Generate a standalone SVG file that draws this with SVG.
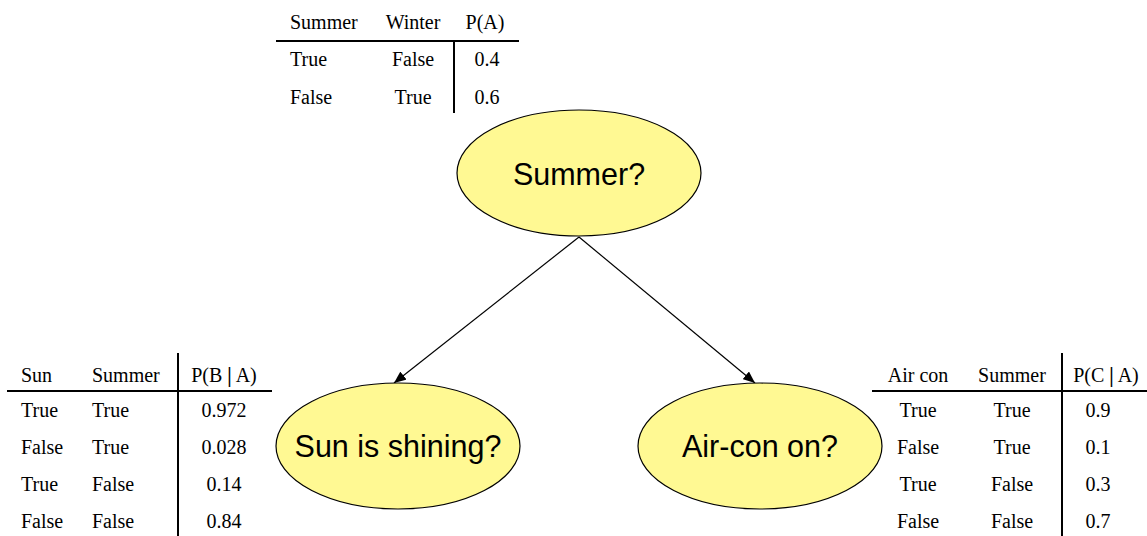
<svg xmlns="http://www.w3.org/2000/svg" width="1147" height="536" viewBox="0 0 1147 536">
<defs>
<marker id="arrow" viewBox="0 0 12 10" refX="12" refY="5" markerWidth="12" markerHeight="10" markerUnits="userSpaceOnUse" orient="auto">
<path d="M0,0 L12,5 L0,10 z" fill="#000"/>
</marker>
<style>
.node { fill: #FFF993; stroke: #000; stroke-width: 1.2; }
.nt { font-family: "Liberation Sans", Arial, sans-serif; font-size: 30.5px; fill: #000; text-anchor: middle; }
.tt { font-family: "Liberation Serif", "Times New Roman", serif; font-size: 20px; fill: #000; }
.c { text-anchor: middle; }
.bar { font-weight: bold; }
.rule { stroke: #000; stroke-width: 2; fill: none; }
.edge { stroke: #000; stroke-width: 1.2; fill: none; marker-end: url(#arrow); }
</style>
</defs>
<rect width="1147" height="536" fill="#fff"/>

<g id="connectors">
<line class="edge" x1="579" y1="237" x2="394" y2="383"/>
<line class="edge" x1="579" y1="237" x2="755" y2="383"/>
</g>

<g id="node-summer">
<ellipse class="node" cx="579" cy="173" rx="122" ry="63"/>
<text class="nt" x="579" y="185">Summer?</text>
</g>

<g id="node-sun">
<ellipse class="node" cx="398" cy="446" rx="122" ry="63"/>
<text class="nt" x="398" y="457">Sun is shining?</text>
</g>

<g id="node-aircon">
<ellipse class="node" cx="760" cy="446" rx="122" ry="63"/>
<text class="nt" x="760" y="457">Air-con on?</text>
</g>

<g id="table-summer">
<line class="rule" x1="276" y1="41" x2="519" y2="41"/>
<line class="rule" x1="454" y1="41" x2="454" y2="113"/>
<text class="tt" x="290" y="29">Summer</text>
<text class="tt c" x="413" y="29">Winter</text>
<text class="tt c" x="485" y="29">P(A)</text>
<text class="tt" x="290" y="66">True</text>
<text class="tt c" x="413" y="66">False</text>
<text class="tt c" x="487" y="66">0.4</text>
<text class="tt" x="290" y="104">False</text>
<text class="tt c" x="413" y="104">True</text>
<text class="tt c" x="487" y="104">0.6</text>
</g>

<g id="table-sun">
<line class="rule" x1="7" y1="391" x2="272" y2="391"/>
<line class="rule" x1="178" y1="353" x2="178" y2="536"/>
<text class="tt" x="21" y="382">Sun</text>
<text class="tt" x="92" y="382">Summer</text>
<text class="tt c" x="224" y="382">P(B <tspan class="bar">|</tspan> A)</text>
<text class="tt" x="21" y="417">True</text>
<text class="tt" x="92" y="417">True</text>
<text class="tt c" x="224" y="417">0.972</text>
<text class="tt" x="21" y="454">False</text>
<text class="tt" x="92" y="454">True</text>
<text class="tt c" x="224" y="454">0.028</text>
<text class="tt" x="21" y="491">True</text>
<text class="tt" x="92" y="491">False</text>
<text class="tt c" x="224" y="491">0.14</text>
<text class="tt" x="21" y="528">False</text>
<text class="tt" x="92" y="528">False</text>
<text class="tt c" x="224" y="528">0.84</text>
</g>

<g id="table-aircon">
<line class="rule" x1="872" y1="391" x2="1147" y2="391"/>
<line class="rule" x1="1062" y1="353" x2="1062" y2="536"/>
<text class="tt c" x="918" y="382">Air con</text>
<text class="tt c" x="1012" y="382">Summer</text>
<text class="tt c" x="1106" y="382">P(C <tspan class="bar">|</tspan> A)</text>
<text class="tt c" x="918" y="417">True</text>
<text class="tt c" x="1012" y="417">True</text>
<text class="tt c" x="1098" y="417">0.9</text>
<text class="tt c" x="918" y="454">False</text>
<text class="tt c" x="1012" y="454">True</text>
<text class="tt c" x="1098" y="454">0.1</text>
<text class="tt c" x="918" y="491">True</text>
<text class="tt c" x="1012" y="491">False</text>
<text class="tt c" x="1098" y="491">0.3</text>
<text class="tt c" x="918" y="528">False</text>
<text class="tt c" x="1012" y="528">False</text>
<text class="tt c" x="1098" y="528">0.7</text>
</g>
</svg>
